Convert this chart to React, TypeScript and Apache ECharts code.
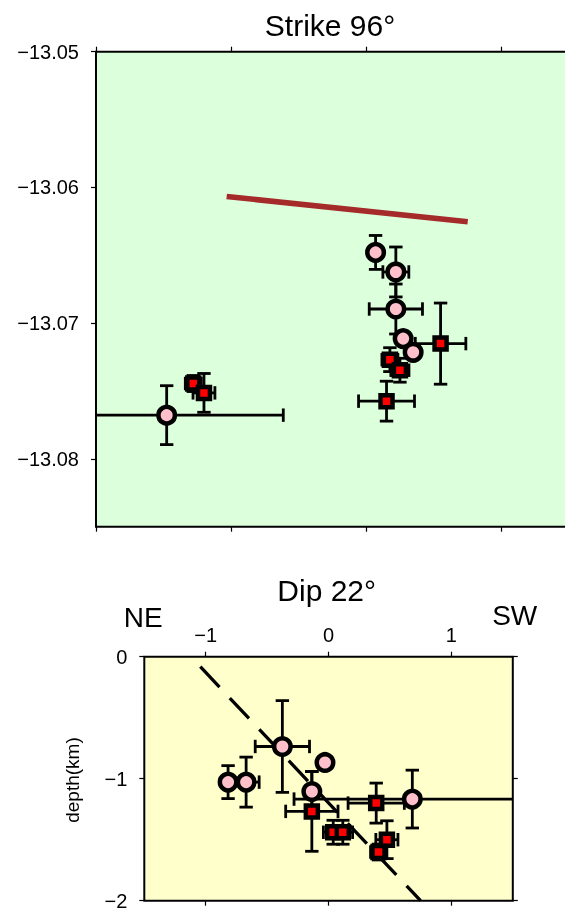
import React, { useEffect, useRef } from "react";
import * as echarts from "echarts";

// ---------- DATA ----------
// Map view (Strike 96°): [x, latitude, xErr, latErr]
const mapCircles: number[][] = [
  [2.069, -13.06479, 0, 0.00125],
  [2.219, -13.06623, 0.096, 0.00184],
  [2.219, -13.06896, 0.197, 0.00184],
  [2.273, -13.07114, 0, 0],
  [2.347, -13.07215, 0, 0],
  [0.523, -13.07678, 0.863, 0.00217],
];
const mapSquares: number[][] = [
  [2.55, -13.07151, 0.187, 0.00299],
  [2.175, -13.07269, 0.059, 0.00088],
  [2.249, -13.07347, 0.067, 0.00088],
  [2.15, -13.07575, 0.207, 0.00147],
  [0.72, -13.07445, 0.059, 0.00059],
  [0.799, -13.07514, 0.081, 0.00143],
];
const faultTrace: number[][] = [
  [0.967, -13.06067],
  [2.751, -13.06253],
];
const mapXTicks = [0, 1, 2, 3];
const mapYTicks = [-13.08, -13.07, -13.06, -13.05];

// Cross-section (Dip 22°): [distance km, depth km, xErr, depthErr]
const secCircles: number[][] = [
  [-0.818, -1.028, 0, 0.135],
  [-0.671, -1.028, 0.106, 0.205],
  [-0.376, -0.736, 0.221, 0.376],
  [-0.029, -0.867, 0, 0],
  [-0.136, -1.105, 0, 0.164],
  [0.682, -1.167, 0.963, 0.237],
];
const secSquares: number[][] = [
  [0.388, -1.2, 0.229, 0.164],
  [-0.136, -1.268, 0.213, 0.327],
  [0.038, -1.439, 0.08, 0.098],
  [0.116, -1.439, 0.08, 0.098],
  [0.475, -1.5, 0.09, 0.155],
  [0.407, -1.601, 0.065, 0.065],
];
const faultPlane: number[][] = [
  [-1.044, -0.082],
  [0.749, -2.0],
];
const secXTicks = [-1, 0, 1];
const secYTicks = [-2, -1, 0];

const FONT = "'Liberation Sans', Arial, Helvetica, sans-serif";
const minus = (s: string) => s.replace("-", "\u2212");

function errorBars(params: any, api: any) {
  const x = api.value(0);
  const y = api.value(1);
  const ex = api.value(2);
  const ey = api.value(3);
  const cs = params.coordSys;
  const c = api.coord([x, y]);
  const children: any[] = [];
  const style = { stroke: "#000", lineWidth: 2.8 };
  const cap = 6.7;
  if (ex > 0) {
    let l = api.coord([x - ex, y])[0];
    let r = api.coord([x + ex, y])[0];
    let lc = true, rc = true;
    if (l < cs.x) { l = cs.x; lc = false; }
    if (r > cs.x + cs.width) { r = cs.x + cs.width; rc = false; }
    children.push({ type: "line", shape: { x1: l, y1: c[1], x2: r, y2: c[1] }, style });
    if (lc) children.push({ type: "line", shape: { x1: l, y1: c[1] - cap, x2: l, y2: c[1] + cap }, style });
    if (rc) children.push({ type: "line", shape: { x1: r, y1: c[1] - cap, x2: r, y2: c[1] + cap }, style });
  }
  if (ey > 0) {
    const t = api.coord([x, y + ey])[1];
    const b = api.coord([x, y - ey])[1];
    children.push({ type: "line", shape: { x1: c[0], y1: t, x2: c[0], y2: b }, style });
    children.push({ type: "line", shape: { x1: c[0] - cap, y1: t, x2: c[0] + cap, y2: t }, style });
    children.push({ type: "line", shape: { x1: c[0] - cap, y1: b, x2: c[0] + cap, y2: b }, style });
  }
  return { type: "group", children };
}

const tick = { show: true, inside: false, length: 5, lineStyle: { color: "#000", width: 1.2 } };
const labelStyle = { color: "#000", fontSize: 20, fontFamily: FONT };

export default function App() {
  const ref = useRef<HTMLDivElement>(null);
  useEffect(() => {
    if (!ref.current) return;
    const chart = echarts.init(ref.current, null, { renderer: "svg" });
    const circleStyle = { color: "#ffc0cb", borderColor: "#000", borderWidth: 4.5, opacity: 1 };
    const squareStyle = { color: "#ff0000", borderColor: "#000", borderWidth: 4.5, opacity: 1 };
    chart.setOption({
      animation: false,
      grid: [
        { left: 96, top: 51.7, width: 527, height: 475, show: true, backgroundColor: "#dcffdc", borderColor: "#000", borderWidth: 2 },
        { left: 144.3, top: 656.7, width: 368.5, height: 244, show: true, backgroundColor: "#ffffcc", borderColor: "#000", borderWidth: 2 },
      ],
      xAxis: [
        { gridIndex: 0, type: "value", position: "bottom", min: 0, max: 3.9, axisLine: { show: false, onZero: false }, axisTick: { ...tick, customValues: mapXTicks }, axisLabel: { show: false }, splitLine: { show: false } },
        { gridIndex: 0, type: "value", position: "top", min: 0, max: 3.9, axisLine: { show: false, onZero: false }, axisTick: { ...tick, customValues: mapXTicks }, axisLabel: { show: false }, splitLine: { show: false } },
        { gridIndex: 1, type: "value", position: "top", min: -1.5, max: 1.5, axisLine: { show: false, onZero: false }, axisTick: { ...tick, customValues: secXTicks }, axisLabel: { ...labelStyle, margin: 12, customValues: secXTicks, formatter: (v: number) => minus(String(Math.round(v))) }, splitLine: { show: false } },
        { gridIndex: 1, type: "value", position: "bottom", min: -1.5, max: 1.5, axisLine: { show: false, onZero: false }, axisTick: { ...tick, customValues: secXTicks }, axisLabel: { show: false }, splitLine: { show: false } },
      ],
      yAxis: [
        { gridIndex: 0, type: "value", position: "left", min: -13.085, max: -13.05, axisLine: { show: false, onZero: false }, axisTick: { ...tick, customValues: mapYTicks }, axisLabel: { ...labelStyle, margin: 17, customValues: mapYTicks, formatter: (v: number) => minus(v.toFixed(2)) }, splitLine: { show: false } },
        { gridIndex: 1, type: "value", position: "left", min: -2, max: 0, axisLine: { show: false, onZero: false }, axisTick: { ...tick, customValues: secYTicks }, axisLabel: { ...labelStyle, margin: 17, customValues: secYTicks, formatter: (v: number) => minus(String(Math.round(v))) }, splitLine: { show: false } },
        { gridIndex: 1, type: "value", position: "right", min: -2, max: 0, axisLine: { show: false, onZero: false }, axisTick: { ...tick, customValues: secYTicks }, axisLabel: { show: false }, splitLine: { show: false } },
      ],
      graphic: [
        { type: "text", x: 330, y: 25.6, style: { text: "Strike 96°", font: `30px ${FONT}`, fill: "#000", textAlign: "center", textVerticalAlign: "middle" } },
        { type: "text", x: 326.7, y: 590.3, style: { text: "Dip 22°", font: `30px ${FONT}`, fill: "#000", textAlign: "center", textVerticalAlign: "middle" } },
        { type: "text", x: 143.3, y: 617, style: { text: "NE", font: `28px ${FONT}`, fill: "#000", textAlign: "center", textVerticalAlign: "middle" } },
        { type: "text", x: 514.7, y: 615.3, style: { text: "SW", font: `28px ${FONT}`, fill: "#000", textAlign: "center", textVerticalAlign: "middle" } },
        { type: "text", x: 72.3, y: 780, rotation: Math.PI / 2, style: { text: "depth(km)", font: `19px ${FONT}`, fill: "#000", textAlign: "center", textVerticalAlign: "middle" } },
      ],
      series: [
        { type: "line", xAxisIndex: 0, yAxisIndex: 0, data: faultTrace, symbol: "none", lineStyle: { color: "#a52a2a", width: 5.5 }, silent: true, z: 2 },
        { type: "custom", xAxisIndex: 0, yAxisIndex: 0, data: mapCircles, renderItem: errorBars, silent: true, z: 3 },
        { type: "custom", xAxisIndex: 0, yAxisIndex: 0, data: mapSquares, renderItem: errorBars, silent: true, z: 3 },
        { type: "scatter", xAxisIndex: 0, yAxisIndex: 0, data: mapCircles.map((d) => [d[0], d[1]]), symbol: "circle", symbolSize: 16.5, itemStyle: circleStyle, silent: true, z: 4 },
        { type: "scatter", xAxisIndex: 0, yAxisIndex: 0, data: mapSquares.map((d) => [d[0], d[1]]), symbol: "rect", symbolSize: 12, itemStyle: squareStyle, silent: true, z: 5 },
        { type: "line", xAxisIndex: 2, yAxisIndex: 1, data: faultPlane, symbol: "none", lineStyle: { color: "#000", width: 3.3, type: [28, 15] }, silent: true, z: 2 },
        { type: "custom", xAxisIndex: 2, yAxisIndex: 1, data: secCircles, renderItem: errorBars, silent: true, z: 3 },
        { type: "custom", xAxisIndex: 2, yAxisIndex: 1, data: secSquares, renderItem: errorBars, silent: true, z: 3 },
        { type: "scatter", xAxisIndex: 2, yAxisIndex: 1, data: secCircles.map((d) => [d[0], d[1]]), symbol: "circle", symbolSize: 16.5, itemStyle: circleStyle, silent: true, z: 4 },
        { type: "scatter", xAxisIndex: 2, yAxisIndex: 1, data: secSquares.map((d) => [d[0], d[1]]), symbol: "rect", symbolSize: 12, itemStyle: squareStyle, silent: true, z: 5 },
      ],
    });
    return () => chart.dispose();
  }, []);
  return (
    <div style={{ position: "fixed", left: 0, top: 0, width: 565, height: 911, overflow: "hidden" }}>
      <div ref={ref} style={{ width: 640, height: 911 }} />
    </div>
  );
}
